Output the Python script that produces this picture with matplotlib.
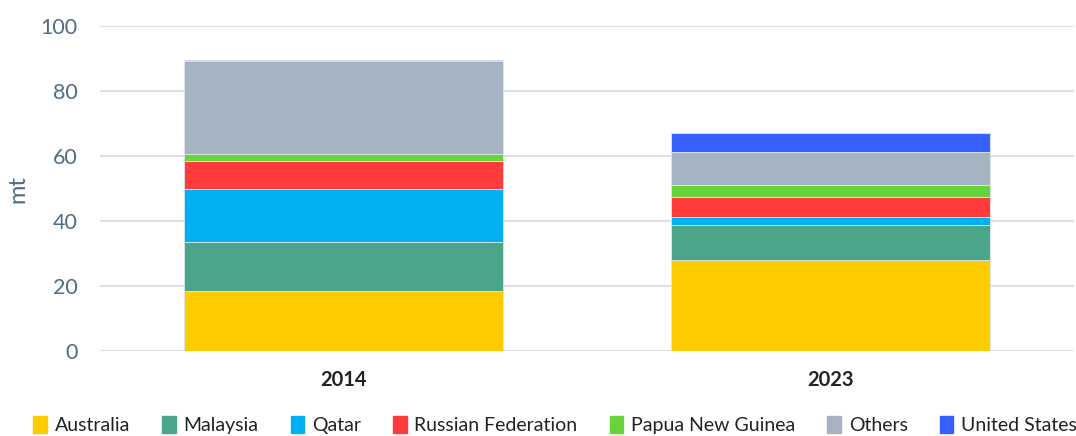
import numpy as np
import matplotlib.pyplot as plt
import matplotlib.patches as mpatches

plt.rcParams['font.family'] = ['Lato', 'DejaVu Sans']

years = ['2014', '2023']
countries = ['Australia', 'Malaysia', 'Qatar', 'Russian Federation',
             'Papua New Guinea', 'Others', 'United States']
australia = [18.5, 28.0]
malaysia = [14.9, 10.7]
qatar = [16.6, 2.7]
russia = [8.5, 5.9]
png = [2.2, 3.8]
others = [28.7, 10.1]
usa = [0.3, 5.8]
series = [australia, malaysia, qatar, russia, png, others, usa]
colors = ['#FFCC00', '#4BA58A', '#00B0F0', '#FF3B3B', '#66D43A', '#A5B3C2', '#3760FF']

tick_col = '#4F6B87'

fig = plt.figure(figsize=(10.76, 4.36), dpi=100)
ax = fig.add_axes([0.093, 0.195, 0.905, 0.745])

x = np.arange(len(years))
bottom = np.zeros(len(years))
for vals, c in zip(series, colors):
    ax.bar(x, vals, 0.656, bottom=bottom, color=c, edgecolor='#dfe6ee', linewidth=0.6, zorder=3)
    bottom += np.array(vals)

ax.set_xlim(-0.5, 1.5)
ax.set_ylim(0, 100)
ax.set_yticks(range(0, 101, 20))
ax.yaxis.grid(True, color='#d9e1ea', linewidth=1.5, zorder=0)
for s in ax.spines.values():
    s.set_visible(False)
ax.tick_params(axis='y', length=0, labelsize=15.5, labelcolor=tick_col, pad=16)
ax.tick_params(axis='x', length=0, pad=14)
ax.set_xticks(x)
ax.set_xticklabels(years, fontsize=14.5, fontweight='bold', color='#222222')
ax.set_ylabel('mt', fontsize=17, color=tick_col, labelpad=9)

patches = [mpatches.Patch(color=c, label=n) for n, c in zip(countries, colors)]
fig.legend(handles=patches, loc='lower center', bbox_to_anchor=(0.516, -0.036), ncol=7,
           frameon=False, fontsize=14, handlelength=0.7, handleheight=0.9,
           handletextpad=0.4, columnspacing=1.65, labelcolor='#222222')

fig.savefig('out.png', dpi=100)
